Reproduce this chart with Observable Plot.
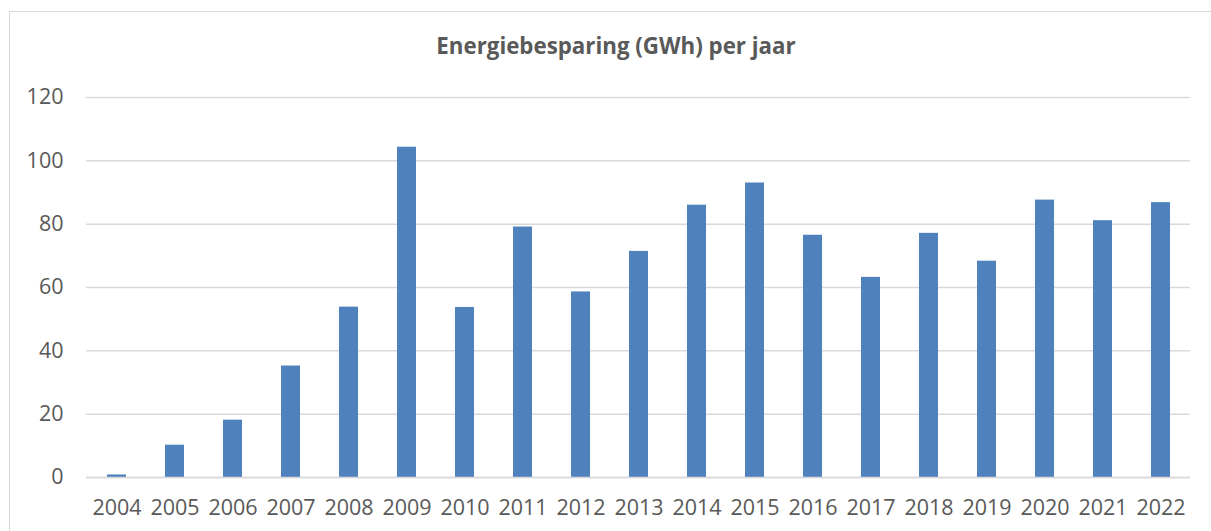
<!DOCTYPE html>
<html>
<head>
<meta charset="utf-8">
<script src="https://cdn.jsdelivr.net/npm/d3@7"></script>
<script src="https://cdn.jsdelivr.net/npm/@observablehq/plot@0.6"></script>
<style>
  html, body { margin: 0; padding: 0; background: #fff; overflow: hidden; width: 1211px; height: 531px; }
  #frame { position: absolute; left: 9px; top: 11px; width: 1300px; height: 700px; border: 1.5px solid #d9d9d9; box-sizing: border-box; }
  #title { position: absolute; left: 0; top: 31px; width: 1232px; text-align: center; font-family: "Open Sans", sans-serif; font-weight: bold; font-size: 22.3px; line-height: 30px; color: #595959; }
  #chart { position: absolute; left: 0; top: 0; }
</style>
</head>
<body>
<div id="frame"></div>
<div id="title">Energiebesparing (GWh) per jaar</div>
<div id="chart"></div>
<script>
const years = ["2004","2005","2006","2007","2008","2009","2010","2011","2012","2013","2014","2015","2016","2017","2018","2019","2020","2021","2022"];
const savings = [0.8, 10.2, 18.1, 35.2, 53.8, 104.3, 53.7, 79.1, 58.6, 71.4, 86.0, 93.0, 76.5, 63.2, 77.1, 68.3, 87.6, 81.1, 86.8];
const yTicks = [0, 20, 40, 60, 80, 100, 120];

const data = years.map((y, i) => ({year: y, value: savings[i]}));

const chart = Plot.plot({
  width: 1211,
  height: 531,
  marginLeft: 86,
  marginRight: 21,
  marginTop: 97,
  marginBottom: 54,
  style: {fontFamily: "Open Sans, sans-serif", color: "#595959", background: "transparent"},
  x: {domain: years, paddingInner: 0.68, paddingOuter: 0.34},
  y: {domain: [0, 120]},
  marks: [
    Plot.ruleY(yTicks, {stroke: "#d9d9d9", strokeWidth: 1.5}),
    Plot.barY(data, {x: "year", y: "value", fill: "#4f81bd"}),
    Plot.ruleY([0], {stroke: "#d9d9d9", strokeWidth: 1.5}),
    Plot.axisX({label: null, tickSize: 0, tickPadding: 22, fontSize: 21.5, fill: "#595959"}),
    Plot.axisY({ticks: yTicks, label: null, tickSize: 0, tickPadding: 23, fontSize: 21.5, fill: "#595959"})
  ]
});
document.getElementById("chart").appendChild(chart);
</script>
</body>
</html>
